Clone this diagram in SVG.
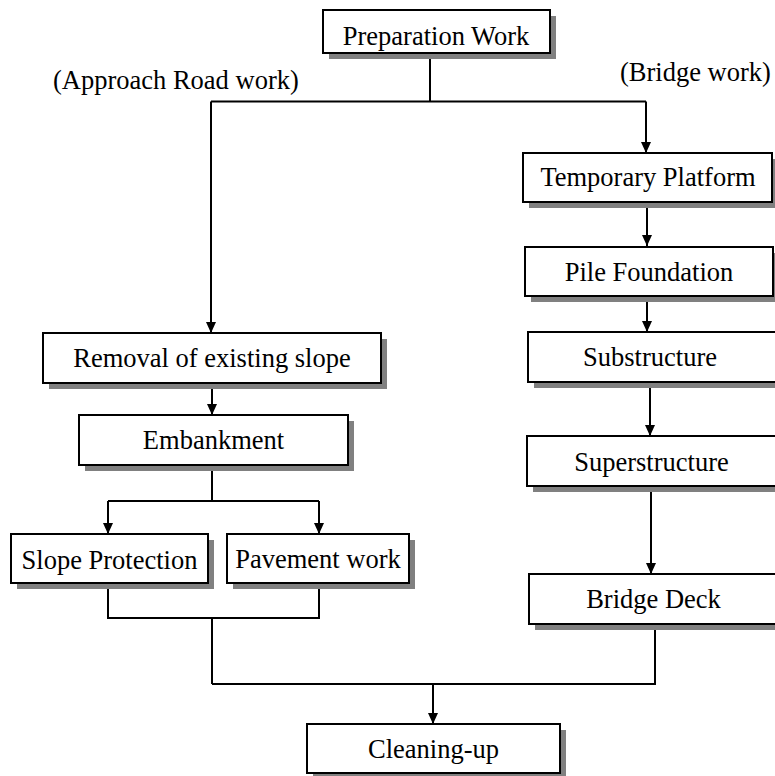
<svg xmlns="http://www.w3.org/2000/svg" width="775" height="776" viewBox="0 0 775 776">
<style>
.box{fill:#fff;stroke:#000;stroke-width:2}
.sh{fill:#808080}
.t{font-family:"Liberation Serif","Times New Roman",serif;font-size:26.5px;fill:#000;text-anchor:middle}
.lbl{font-family:"Liberation Serif","Times New Roman",serif;font-size:26.5px;fill:#000}
.c{fill:none;stroke:#000;stroke-width:2}
</style>
<defs>
<marker id="ah" markerUnits="userSpaceOnUse" markerWidth="11" markerHeight="10" refX="11" refY="5" orient="auto">
<path d="M0,0 L11,5 L0,10 z" fill="#000"/>
</marker>
</defs>
<rect width="775" height="776" fill="#fff"/>
<text class="lbl" x="53" y="89">(Approach Road work)</text>
<text class="lbl" x="620" y="81">(Bridge work)</text>
<g id="connectors">
<path class="c" d="M430,53 V101.5"/>
<path class="c" d="M211,101.5 H646"/>
<path class="c" d="M211,101.5 V333" marker-end="url(#ah)"/>
<path class="c" d="M646,101.5 V153" marker-end="url(#ah)"/>
<path class="c" d="M647,202 V246" marker-end="url(#ah)"/>
<path class="c" d="M647,296 V332" marker-end="url(#ah)"/>
<path class="c" d="M650,382 V436" marker-end="url(#ah)"/>
<path class="c" d="M651,486 V574" marker-end="url(#ah)"/>
<path class="c" d="M655,624 V684 H212"/>
<path class="c" d="M433,684 V724" marker-end="url(#ah)"/>
<path class="c" d="M212,383 V415" marker-end="url(#ah)"/>
<path class="c" d="M212,465 V501"/>
<path class="c" d="M108,501 H319"/>
<path class="c" d="M108,501 V534" marker-end="url(#ah)"/>
<path class="c" d="M319,501 V534" marker-end="url(#ah)"/>
<path class="c" d="M108,583 V618 H319 V583"/>
<path class="c" d="M212,618 V684"/>
</g>
<g id="prep"><rect class="sh" x="329" y="16" width="227" height="43"/><rect class="box" x="323" y="10" width="227" height="43"/><text class="t" x="436" y="45">Preparation Work</text></g>
<g id="temp"><rect class="sh" x="529" y="159" width="249" height="49"/><rect class="box" x="523" y="153" width="249" height="49"/><text class="t" x="648" y="186">Temporary Platform</text></g>
<g id="pile"><rect class="sh" x="531" y="253" width="248" height="49"/><rect class="box" x="525" y="247" width="248" height="49"/><text class="t" x="649" y="281">Pile Foundation</text></g>
<g id="sub"><rect class="sh" x="534" y="338" width="250" height="50"/><rect class="box" x="528" y="332" width="250" height="50"/><text class="t" x="650" y="366">Substructure</text></g>
<g id="super"><rect class="sh" x="533" y="442" width="250" height="50"/><rect class="box" x="527" y="436" width="250" height="50"/><text class="t" x="651.5" y="471">Superstructure</text></g>
<g id="deck"><rect class="sh" x="535" y="580" width="250" height="50"/><rect class="box" x="529" y="574" width="250" height="50"/><text class="t" x="653.5" y="608">Bridge Deck</text></g>
<g id="removal"><rect class="sh" x="49" y="339" width="338" height="50"/><rect class="box" x="43" y="333" width="338" height="50"/><text class="t" x="212" y="367">Removal of existing slope</text></g>
<g id="embank"><rect class="sh" x="85" y="421" width="269" height="50"/><rect class="box" x="79" y="415" width="269" height="50"/><text class="t" x="213.5" y="449">Embankment</text></g>
<g id="slope"><rect class="sh" x="17" y="540" width="197" height="49"/><rect class="box" x="11" y="534" width="197" height="49"/><text class="t" x="109.5" y="569">Slope Protection</text></g>
<g id="pave"><rect class="sh" x="233" y="540" width="182" height="49"/><rect class="box" x="227" y="534" width="182" height="49"/><text class="t" x="318" y="568">Pavement work</text></g>
<g id="clean"><rect class="sh" x="313" y="730" width="253" height="49"/><rect class="box" x="307" y="724" width="253" height="49"/><text class="t" x="433.5" y="758">Cleaning-up</text></g>
</svg>
